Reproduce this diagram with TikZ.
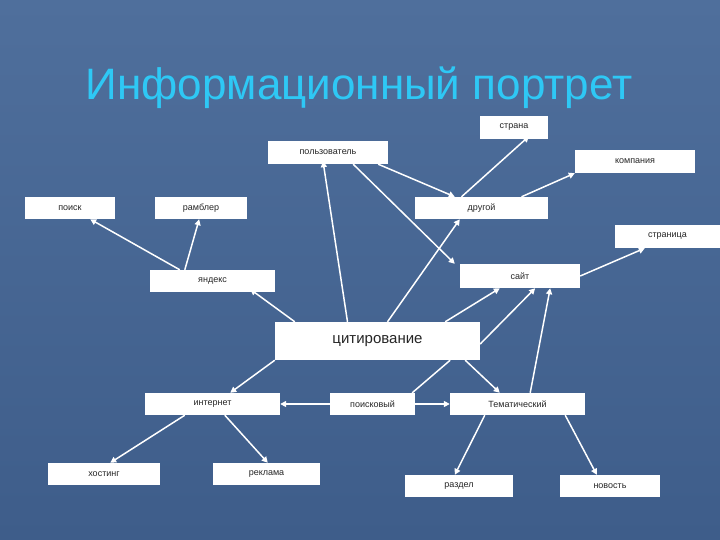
\documentclass[tikz,border=0pt]{standalone}
\usepackage{fontspec}
\setmainfont{Liberation Sans}
\usetikzlibrary{arrows.meta}
\definecolor{bgtop}{HTML}{4F6F9C}
\definecolor{bgbot}{HTML}{3E5D8A}
\definecolor{ttl}{HTML}{2EC8F5}
\begin{document}
\begin{tikzpicture}[x=1pt,y=-1pt,
  box/.style={draw=none,fill=white,inner sep=0pt,font=\fontsize{9}{10}\selectfont,text=black!85},
  arr/.style={white,line width=1.5pt,-{Triangle[length=6pt,width=6pt]}},
  ln/.style={white,line width=1.5pt}]
\shade[top color=bgtop,bottom color=bgbot] (0,0) rectangle (720,540);
\useasboundingbox (0,0) rectangle (720,540);
\node[font=\fontsize{44}{48}\selectfont,text=ttl] (title) at (359,88) {Информационный портрет};
\newcommand{\bx}[6]{\node[box,minimum width=#4-#2,minimum height=#5-#3] (#1) at ({(#2+#4)/2},{(#3+#5)/2}) {#6};}
\bx{strana}{480}{116}{548}{139}{страна}
\bx{polz}{268}{141}{388}{164}{пользователь}
\bx{komp}{575}{150}{695}{173}{компания}
\bx{poisk}{25}{197}{115}{219}{поиск}
\bx{rambl}{155}{197}{247}{219}{рамблер}
\bx{drug}{415}{197}{548}{219}{другой}
\bx{stran}{615}{225}{720}{248}{страница}
\bx{yand}{150}{270}{275}{292}{яндекс}
\bx{sait}{460}{264}{580}{288}{сайт}
\node[box,font=\fontsize{15}{17}\selectfont,minimum width=205,minimum height=38] (cit) at (377.5,341) {цитирование};
\bx{inet}{145}{393}{280}{415}{интернет}
\bx{poisky}{330}{393}{415}{415}{поисковый}
\bx{tema}{450}{393}{585}{415}{Тематический}
\bx{host}{48}{463}{160}{485}{хостинг}
\bx{rekl}{213}{463}{320}{485}{реклама}
\bx{razd}{405}{475}{513}{497}{раздел}
\bx{novo}{560}{475}{660}{497}{новость}
\draw[arr] ([xshift=-30pt]cit.north) -- ([xshift=-5pt,yshift=3pt]polz.south);
\draw[arr] ([xshift=-10pt]polz.south east) -- ([xshift=40pt]drug.north west);
\draw[arr] ([xshift=-35pt]polz.south east) -- ([xshift=-5pt]sait.north west);
\draw[arr] ([xshift=-20pt]drug.north) -- ([xshift=15pt,yshift=3pt]strana.south);
\draw[arr] ([xshift=40pt]drug.north) -- (komp.south west);
\draw[arr] ([xshift=30pt]yand.north west) -- ([xshift=-25pt]poisk.south east);
\draw[arr] ([xshift=35pt]yand.north west) -- ([xshift=-48pt]rambl.south east);
\draw[arr] ([xshift=20pt]cit.north west) -- ([xshift=-25pt,yshift=3pt]yand.south east);
\draw[arr] ([xshift=10pt]cit.north) -- ([xshift=45pt]drug.south west);
\draw[arr] ([xshift=-35pt]cit.north east) -- ([xshift=40pt]sait.south west);
\draw[arr] ([yshift=-3pt]cit.east) -- ([xshift=-45pt]sait.south east);
\draw[arr] ([xshift=-55pt]tema.north east) -- ([xshift=-30pt]sait.south east);
\draw[arr] (sait.east) -- ([xshift=30pt]stran.south west);
\draw[arr] (cit.south west) -- ([xshift=-50pt]inet.north east);
\draw[ln] ([xshift=-30pt]cit.south east) -- ([xshift=-3pt]poisky.north east);
\draw[arr] (poisky.west) -- (inet.east);
\draw[arr] (poisky.east) -- (tema.west);
\draw[arr] ([xshift=-15pt]cit.south east) -- ([xshift=50pt]tema.north west);
\draw[arr] ([xshift=40pt]inet.south west) -- ([xshift=-50pt]host.north east);
\draw[arr] ([xshift=80pt]inet.south west) -- ([xshift=55pt]rekl.north west);
\draw[arr] ([xshift=35pt]tema.south west) -- ([xshift=50pt]razd.north west);
\draw[arr] ([xshift=-20pt]tema.south east) -- ([xshift=37pt]novo.north west);
\end{tikzpicture}
\end{document}
